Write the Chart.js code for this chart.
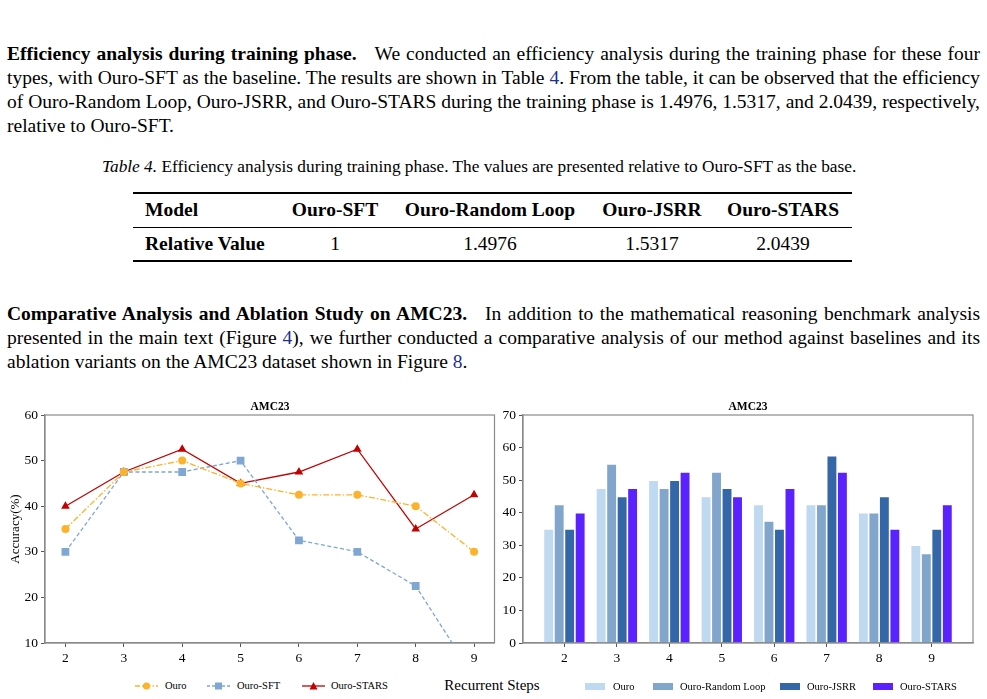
<!DOCTYPE html>
<html>
<head>
<meta charset="utf-8">
<script src="https://cdn.jsdelivr.net/npm/chart.js@4.4.0/dist/chart.umd.min.js"></script>
<style>
  html, body { margin: 0; padding: 0; background: #fff; }
  body { width: 987px; height: 699px; position: relative; overflow: hidden;
         font-family: "Liberation Serif", "Times New Roman", serif; color: #000; }
  .ln { position: absolute; left: 7px; white-space: nowrap; font-size: 19.5px; line-height: 24px; transform-origin: 0 0; }
  .gap { display: inline-block; width: 18px; }
  .ref { color: #1f2f8f; }
  .cap { position: absolute; top: 157px; left: 102px; white-space: nowrap; font-size: 17.3px; line-height: 20px; transform-origin: 0 0; }
  .rule { position: absolute; left: 133px; width: 719px; background: #000; }
  .cell { position: absolute; white-space: nowrap; font-size: 19.5px; line-height: 24px; transform: translateX(-50%); }
  .cell.l { transform: none; }
  .b { font-weight: bold; }
  canvas { position: absolute; }
  .ctitle { position: absolute; top: 399px; font-size: 11.5px; font-weight: bold; line-height: 14px; transform: translateX(-50%); white-space: nowrap; }
  .leg { position: absolute; font-size: 10.5px; line-height: 12px; white-space: nowrap; }
  .sym { position: absolute; }
  .xlab { position: absolute; top: 676px; left: 492px; transform: translateX(-50%); font-size: 15px; line-height: 18px; white-space: nowrap; }
</style>
</head>
<body>

<div class="ln just" style="top:42px"><span class="b">Efficiency analysis during training phase.</span><span class="gap"></span>We conducted an efficiency analysis during the training phase for these four</div>
<div class="ln just" style="top:66px">types, with Ouro-SFT as the baseline. The results are shown in Table <span class="ref">4</span>. From the table, it can be observed that the efficiency</div>
<div class="ln just" style="top:90px">of Ouro-Random Loop, Ouro-JSRR, and Ouro-STARS during the training phase is 1.4976, 1.5317, and 2.0439, respectively,</div>
<div class="ln" style="top:114px">relative to Ouro-SFT.</div>

<div class="cap"><i>Table 4.</i> Efficiency analysis during training phase. The values are presented relative to Ouro-SFT as the base.</div>

<div class="rule" style="top:192px;height:2px"></div>
<div class="rule" style="top:227px;height:1px"></div>
<div class="rule" style="top:260px;height:2px"></div>
<div class="cell b l" style="top:198px;left:145px">Model</div>
<div class="cell b" style="top:198px;left:335px">Ouro-SFT</div>
<div class="cell b" style="top:198px;left:490px">Ouro-Random Loop</div>
<div class="cell b" style="top:198px;left:652px">Ouro-JSRR</div>
<div class="cell b" style="top:198px;left:783px">Ouro-STARS</div>
<div class="cell b l" style="top:232px;left:145px">Relative Value</div>
<div class="cell" style="top:232px;left:335px">1</div>
<div class="cell" style="top:232px;left:490px">1.4976</div>
<div class="cell" style="top:232px;left:652px">1.5317</div>
<div class="cell" style="top:232px;left:783px">2.0439</div>

<div class="ln just" style="top:302px"><span class="b">Comparative Analysis and Ablation Study on AMC23.</span><span class="gap"></span>In addition to the mathematical reasoning benchmark analysis</div>
<div class="ln just" style="top:326px">presented in the main text (Figure <span class="ref">4</span>), we further conducted a comparative analysis of our method against baselines and its</div>
<div class="ln" style="top:350px">ablation variants on the AMC23 dataset shown in Figure <span class="ref">8</span>.</div>

<canvas id="lineChart" width="500" height="275" style="left:0;top:395px"></canvas>
<canvas id="barChart" width="492" height="275" style="left:495px;top:395px"></canvas>
<div class="ctitle" style="left:270px">AMC23</div>
<div class="ctitle" style="left:748px">AMC23</div>

<!-- line chart legend -->
<svg class="sym" style="left:135px;top:681px" width="23" height="10"><line x1="0" y1="5" x2="23" y2="5" stroke="#fdb22b" stroke-width="1.3" stroke-dasharray="5,2,1.5,2"/><circle cx="11.5" cy="5" r="3.6" fill="#fdb22b"/></svg>
<div class="leg" style="left:165px;top:680px">Ouro</div>
<svg class="sym" style="left:207px;top:681px" width="23" height="10"><line x1="0" y1="5" x2="23" y2="5" stroke="#7fa7d2" stroke-width="1.3" stroke-dasharray="3,2"/><rect x="8" y="1.5" width="7" height="7" fill="#7fa7d2"/></svg>
<div class="leg" style="left:237px;top:680px">Ouro-SFT</div>
<svg class="sym" style="left:302px;top:681px" width="23" height="10"><line x1="0" y1="5" x2="23" y2="5" stroke="#c40000" stroke-width="1.3"/><polygon points="11.5,1 15.5,8.5 7.5,8.5" fill="#c40000"/></svg>
<div class="leg" style="left:331px;top:680px">Ouro-STARS</div>

<div class="xlab">Recurrent Steps</div>

<!-- bar chart legend -->
<svg class="sym" style="left:585px;top:683px" width="20" height="7"><rect width="20" height="7" fill="#bfd9f0"/></svg>
<div class="leg" style="left:613px;top:681px">Ouro</div>
<svg class="sym" style="left:653px;top:683px" width="20" height="7"><rect width="20" height="7" fill="#82a5cc"/></svg>
<div class="leg" style="left:680px;top:681px">Ouro-Random Loop</div>
<svg class="sym" style="left:780px;top:683px" width="20" height="7"><rect width="20" height="7" fill="#3467a8"/></svg>
<div class="leg" style="left:807px;top:681px">Ouro-JSRR</div>
<svg class="sym" style="left:873px;top:683px" width="20" height="7"><rect width="20" height="7" fill="#5a22ff"/></svg>
<div class="leg" style="left:900px;top:681px">Ouro-STARS</div>

<script>
// data
const steps = [2, 3, 4, 5, 6, 7, 8, 9];

const lineOuro  = [35, 47.5, 50, 45, 42.5, 42.5, 40, 30];
const lineSFT   = [30, 47.5, 47.5, 50, 32.5, 30, 22.5, 2.5];
const lineSTARS = [40, 47.5, 52.5, 45, 47.5, 52.5, 35, 42.5];

const barOuro   = [35, 47.5, 50, 45, 42.5, 42.5, 40, 30];
const barRandom = [42.5, 55, 47.5, 52.5, 37.5, 42.5, 40, 27.5];
const barJSRR   = [35, 45, 50, 47.5, 35, 57.5, 45, 35];
const barSTARS  = [40, 47.5, 52.5, 45, 47.5, 52.5, 35, 42.5];

const lineYTicks = [10, 20, 30, 40, 50, 60];
const barYTicks  = [0, 10, 20, 30, 40, 50, 60, 70];

// justify the full text lines to the column width
const FULL = 973;
document.querySelectorAll('.just').forEach(el => {
  el.style.display = 'inline-block';
  const w = el.getBoundingClientRect().width;
  if (w > FULL) {
    el.style.transform = 'scaleX(' + (FULL / w) + ')';
  } else {
    const n = (el.textContent.match(/ /g) || []).length;
    el.style.wordSpacing = ((FULL - w) / n) + 'px';
  }
});

const tickFont = { family: "'Liberation Serif', 'Times New Roman', serif", size: 13.5 };
const spine = '#8a8a8a';

// draws the top and right spines too (matplotlib box)
const frame = {
  id: 'frame',
  afterDraw(c) {
    const a = c.chartArea, ctx = c.ctx;
    ctx.save();
    ctx.strokeStyle = spine;
    ctx.lineWidth = 1.2;
    ctx.strokeRect(a.left, a.top, a.right - a.left, a.bottom - a.top);
    ctx.restore();
  }
};

function axisBase() {
  return {
    grid: { display: true, drawOnChartArea: false, drawTicks: true, tickLength: 4, color: '#555' },
    border: { display: true, color: spine, width: 1.2 },
    ticks: { color: '#000', font: tickFont, padding: 3 }
  };
}

function pts(vals) {
  return steps.map((s, i) => ({ x: s, y: vals[i] }));
}

// line chart
const lx = axisBase();
lx.type = 'linear';
lx.min = steps[0] - 0.35;
lx.max = steps[steps.length - 1] + 0.35;
lx.ticks.stepSize = 1;
lx.ticks.includeBounds = false;
lx.afterFit = s => { s.height = 27; };

const ly = axisBase();
ly.min = lineYTicks[0];
ly.max = lineYTicks[lineYTicks.length - 1];
ly.ticks.stepSize = 10;
ly.afterFit = s => { s.width = 45; };
ly.title = { display: true, text: 'Accuracy(%)', color: '#000', font: { family: tickFont.family, size: 13 }, padding: { top: 8, bottom: 0 } };

new Chart(document.getElementById('lineChart'), {
  type: 'line',
  data: {
    datasets: [
      { label: 'Ouro', data: pts(lineOuro), borderColor: '#fdb22b', backgroundColor: '#fdb22b',
        borderWidth: 1.3, borderDash: [6, 2, 1.5, 2], pointStyle: 'circle', pointRadius: 4, pointBorderWidth: 0, tension: 0 },
      { label: 'Ouro-SFT', data: pts(lineSFT), borderColor: '#7fa7d2', backgroundColor: '#7fa7d2',
        borderWidth: 1.3, borderDash: [4, 2.5], pointStyle: 'rect', pointRadius: 5.5, pointBorderWidth: 0, tension: 0 },
      { label: 'Ouro-STARS', data: pts(lineSTARS), borderColor: '#c40000', backgroundColor: '#c40000',
        borderWidth: 1.3, pointStyle: 'triangle', pointRadius: 5, pointBorderWidth: 0, tension: 0 }
    ]
  },
  options: {
    responsive: false,
    animation: false,
    layout: { padding: { top: 20, right: 5, left: 0, bottom: 0 } },
    plugins: { legend: { display: false }, tooltip: { enabled: false } },
    scales: { x: lx, y: ly }
  },
  plugins: [frame]
});

// bar chart
const bx = axisBase();
bx.type = 'linear';
bx.offset = false;
bx.grid.offset = false;
bx.min = steps[0] - 0.79;
bx.max = steps[steps.length - 1] + 0.79;
bx.ticks.stepSize = 1;
bx.ticks.includeBounds = false;
bx.afterFit = s => { s.height = 27; };

const by = axisBase();
by.min = barYTicks[0];
by.max = barYTicks[barYTicks.length - 1];
by.ticks.stepSize = 10;
by.afterFit = s => { s.width = 28; };

const barStyle = { borderColor: '#ffffff', borderWidth: 0.8, categoryPercentage: 0.8, barPercentage: 1.0 };

new Chart(document.getElementById('barChart'), {
  type: 'bar',
  data: {
    datasets: [
      Object.assign({ label: 'Ouro', data: pts(barOuro), backgroundColor: '#bfd9f0' }, barStyle),
      Object.assign({ label: 'Ouro-Random Loop', data: pts(barRandom), backgroundColor: '#82a5cc' }, barStyle),
      Object.assign({ label: 'Ouro-JSRR', data: pts(barJSRR), backgroundColor: '#3467a8' }, barStyle),
      Object.assign({ label: 'Ouro-STARS', data: pts(barSTARS), backgroundColor: '#5a22ff' }, barStyle)
    ]
  },
  options: {
    responsive: false,
    animation: false,
    layout: { padding: { top: 20, right: 14, left: 0, bottom: 0 } },
    plugins: { legend: { display: false }, tooltip: { enabled: false } },
    scales: { x: bx, y: by }
  },
  plugins: [frame]
});
</script>
</body>
</html>
